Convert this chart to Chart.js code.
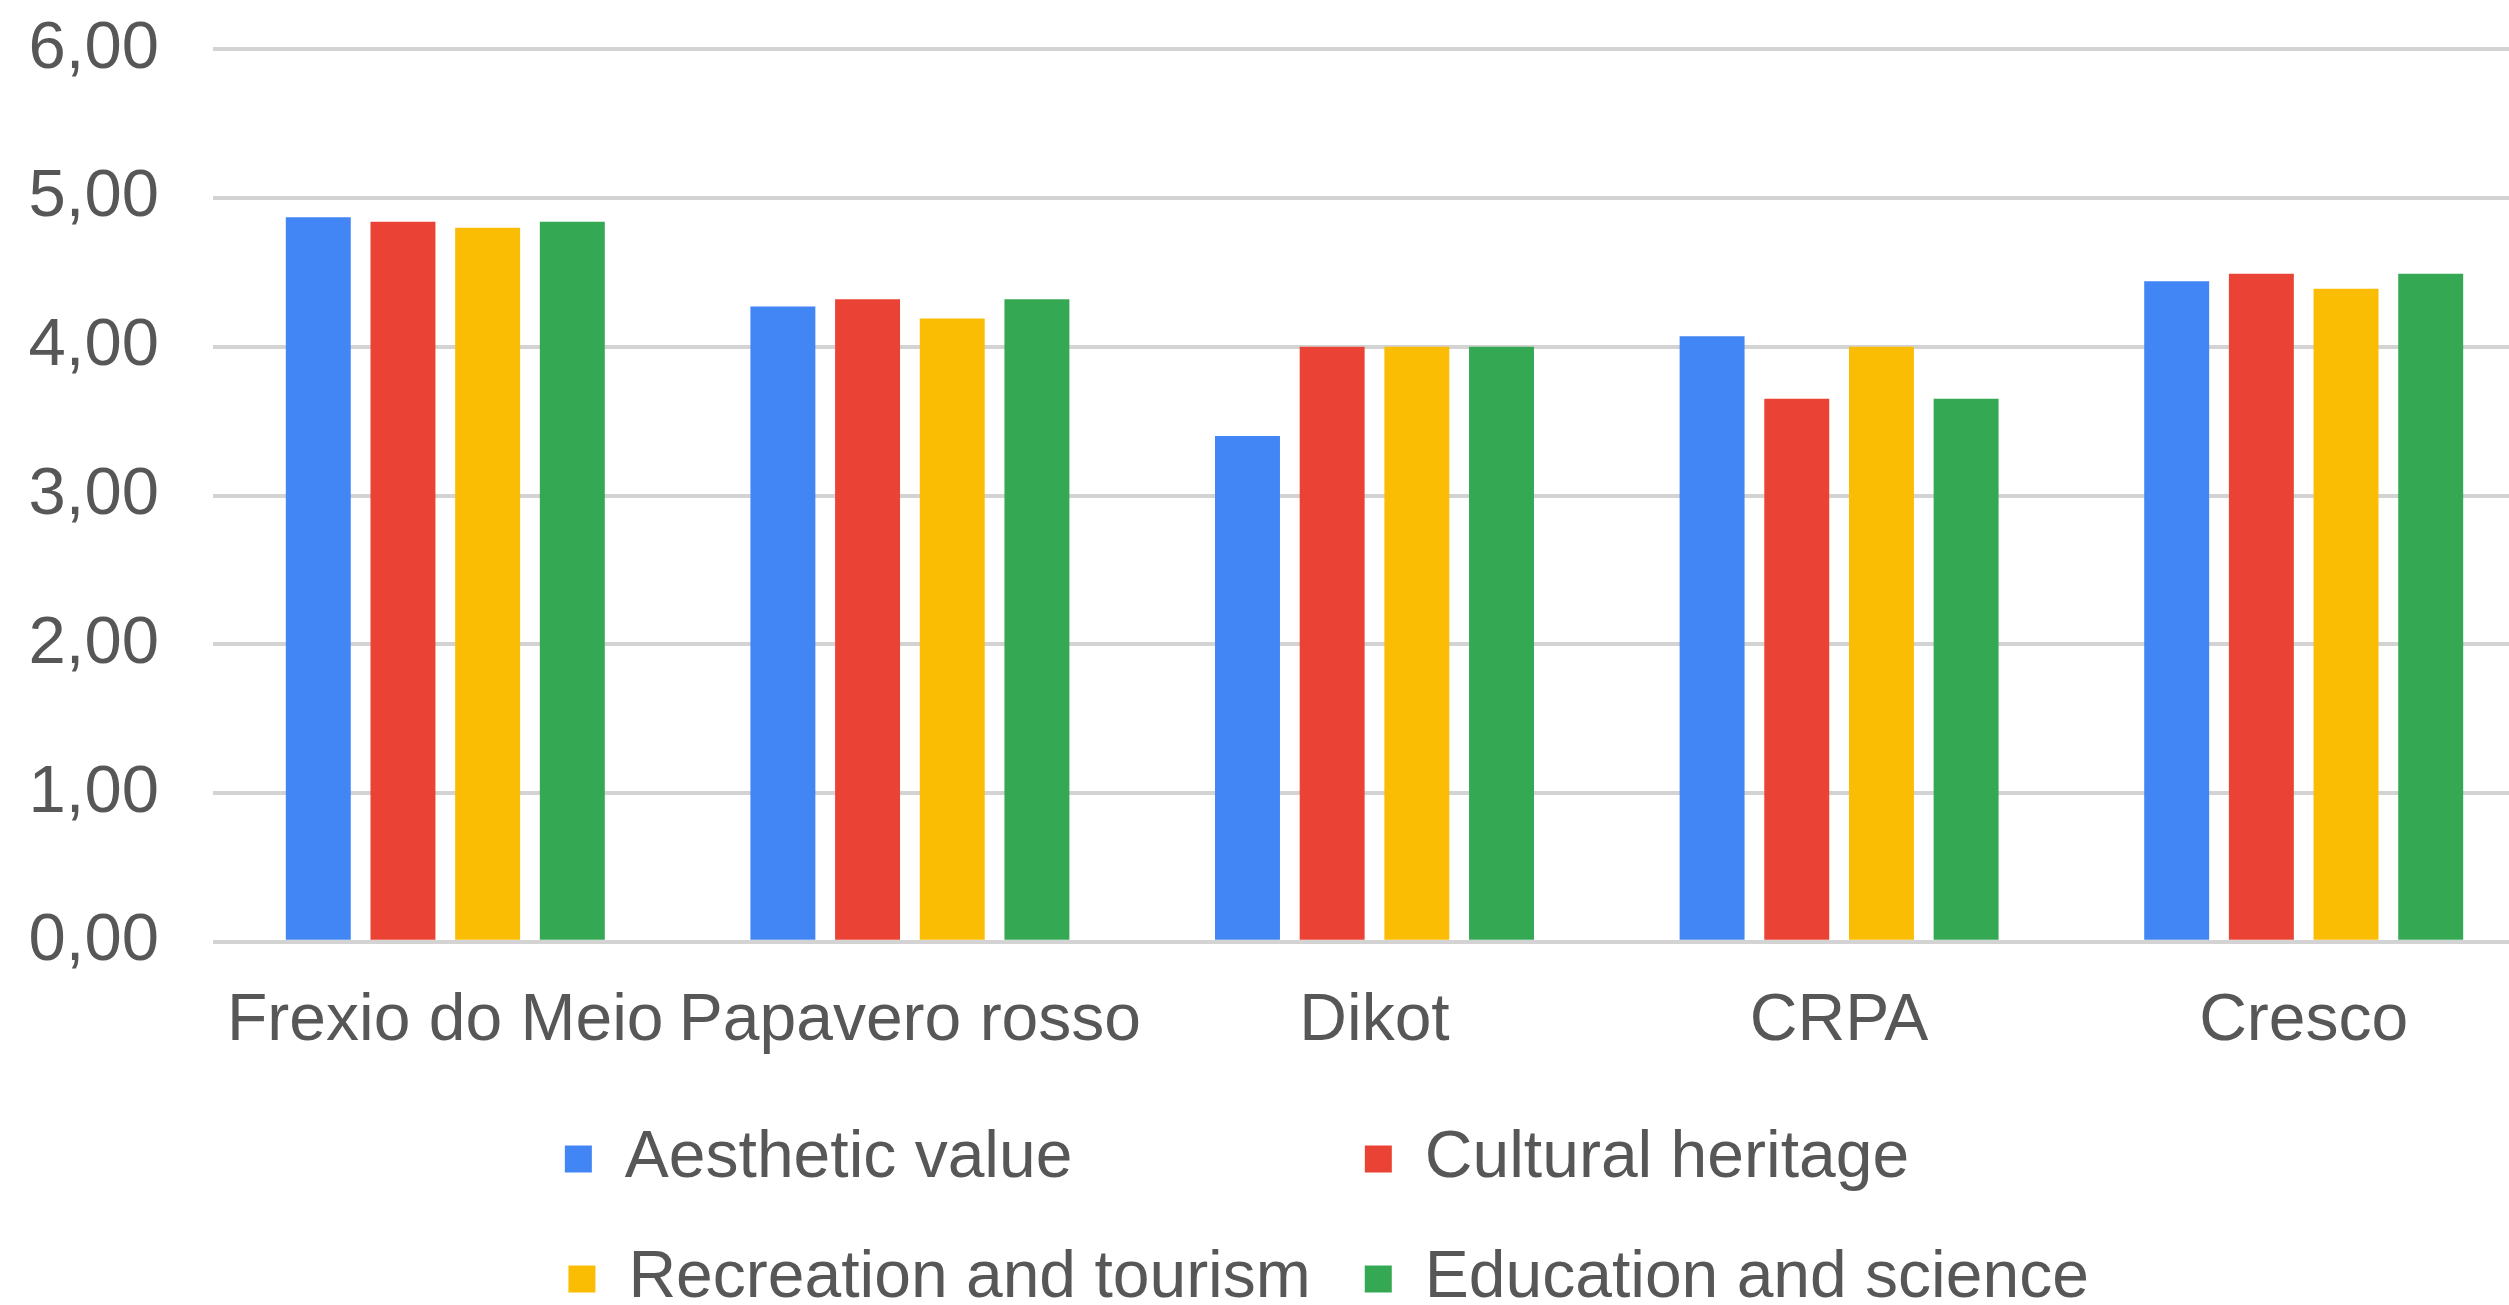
<!DOCTYPE html>
<html>
<head>
<meta charset="utf-8">
<script src="https://cdn.jsdelivr.net/npm/chart.js@4/dist/chart.umd.min.js"></script>
<style>
  html, body { margin: 0; padding: 0; background: #fff; overflow: hidden; }
  canvas { display: block; }
</style>
</head>
<body>
<canvas id="chart" width="2536" height="1322"></canvas>
<script>
// Categories (sites)
const sites = ["Frexio do Meio", "Papavero rosso", "Dikot", "CRPA", "Cresco"];

// Series values
const aestheticValue = [4.87, 4.27, 3.40, 4.07, 4.44];
const culturalHeritage = [4.84, 4.32, 4.00, 3.65, 4.49];
const recreationTourism = [4.80, 4.19, 4.00, 4.00, 4.39];
const educationScience = [4.84, 4.32, 4.00, 3.65, 4.49];

// Y axis ticks
const Y_MIN = 0;
const Y_MAX = 6;
const Y_STEP = 1;

const FONT_FAMILY = '"Liberation Sans", Arial, sans-serif';
const FONT_SIZE = 66;
const TEXT_COLOR = "#575757";

// Pad legend labels with spaces so the two legend rows line up in columns
function padTo(ctx, text, width) {
  let out = text;
  while (ctx.measureText(out + " ").width <= width + 9) out += " ";
  return out;
}

function legendLabels(chart) {
  const items = Chart.defaults.plugins.legend.labels.generateLabels(chart);
  const ctx = chart.ctx;
  ctx.save();
  ctx.font = `${FONT_SIZE}px ${FONT_FAMILY}`;
  const col1 = Math.max(ctx.measureText(items[0].text).width, ctx.measureText(items[2].text).width);
  const col2 = Math.max(ctx.measureText(items[1].text).width, ctx.measureText(items[3].text).width) + 100;
  items[0].text = padTo(ctx, items[0].text, col1);
  items[1].text = padTo(ctx, items[1].text, col2);
  items[3].text = padTo(ctx, items[3].text, col2);
  ctx.restore();
  return items;
}

new Chart(document.getElementById("chart"), {
  type: "bar",
  data: {
    labels: sites,
    datasets: [
      { label: "Aesthetic value", data: aestheticValue, backgroundColor: "#4285F4" },
      { label: "Cultural heritage", data: culturalHeritage, backgroundColor: "#EA4335" },
      { label: "Recreation and tourism", data: recreationTourism, backgroundColor: "#FBBC04" },
      { label: "Education and science", data: educationScience, backgroundColor: "#34A853" },
    ],
  },
  options: {
    responsive: false,
    animation: false,
    devicePixelRatio: 1,
    layout: { padding: { top: 13, left: 0, right: 0, bottom: 0 } },
    datasets: {
      bar: {
        categoryPercentage: 0.729,
        barPercentage: 0.767,
      },
    },
    plugins: {
      tooltip: { enabled: false },
      legend: {
        display: true,
        position: "bottom",
        fullSize: false,
        labels: {
          boxWidth: 27,
          boxHeight: 27,
          padding: 54,
          color: TEXT_COLOR,
          font: { family: FONT_FAMILY, size: FONT_SIZE },
          generateLabels: legendLabels,
        },
      },
    },
    scales: {
      x: {
        // invisible tick marks only used as spacing under the plot
        grid: {
          display: true,
          drawOnChartArea: false,
          drawTicks: true,
          tickLength: 29,
          color: "rgba(0,0,0,0)",
        },
        border: { display: false },
        ticks: {
          padding: 11,
          color: TEXT_COLOR,
          maxRotation: 0,
          autoSkip: false,
          font: { family: FONT_FAMILY, size: FONT_SIZE, lineHeight: 1.2 },
        },
      },
      y: {
        min: Y_MIN,
        max: Y_MAX,
        grid: {
          color: "#d3d3d3",
          lineWidth: 4,
          drawTicks: true,
          tickLength: 45,
          tickColor: "rgba(0,0,0,0)",
        },
        border: { display: false },
        afterFit: (scale) => { scale.width = 213; },
        ticks: {
          stepSize: Y_STEP,
          padding: 9,
          color: TEXT_COLOR,
          font: { family: FONT_FAMILY, size: 67 },
          callback: (v) => v.toFixed(2).replace(".", ","),
        },
      },
    },
  },
});
</script>
</body>
</html>
